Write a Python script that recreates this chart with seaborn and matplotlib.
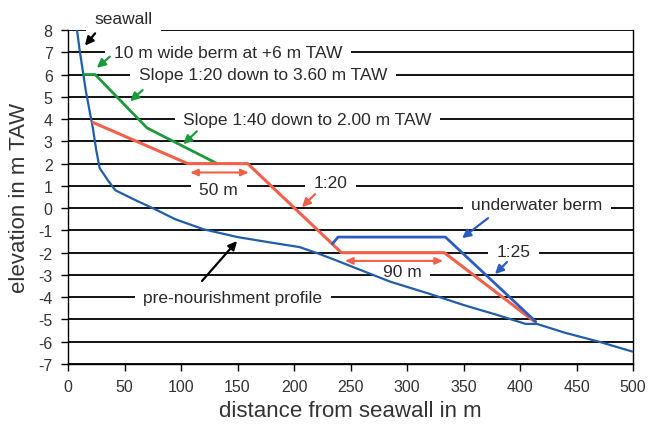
import matplotlib
matplotlib.use('Agg')
import matplotlib.pyplot as plt
import seaborn as sns

# pre-nourishment profile (distance from seawall in m, elevation in m TAW)
profile_x = [8, 10, 13, 16, 19, 22, 25, 28, 32, 36, 42, 50, 60, 75, 95, 120,
             150, 180, 205, 222, 235, 250, 285, 320, 350, 380, 405, 415, 440, 470, 500]
profile_y = [8.0, 7.2, 6.2, 5.2, 4.4, 3.6, 2.6, 1.8, 1.5, 1.2, 0.8, 0.6, 0.35, 0.0, -0.5, -0.95,
             -1.3, -1.55, -1.75, -2.05, -2.3, -2.6, -3.3, -3.85, -4.35, -4.8, -5.2, -5.2, -5.6, -6.0, -6.45]

# upper beach berm (green)
berm_x = [14, 24, 70, 132]
berm_y = [6.0, 6.0, 3.6, 2.0]

# beach nourishment profile (red)
nourish_x = [22, 106, 159, 242, 333, 413]
nourish_y = [3.85, 2.0, 2.0, -2.0, -2.0, -5.1]

# underwater berm (blue)
uw_x = [234, 239, 334, 414]
uw_y = [-1.6, -1.3, -1.3, -5.1]

xticks = list(range(0, 501, 50))
yticks = list(range(-7, 9))

sns.set_style('white')
plt.rcParams['font.family'] = ['Liberation Sans', 'DejaVu Sans']
plt.rcParams['axes.unicode_minus'] = False

fig = plt.figure(figsize=(6.52, 4.27), dpi=100)
ax = fig.add_axes([68 / 652, 1 - 365 / 427, 565 / 652, 334 / 427])

ax.set_axisbelow(True)
ax.grid(axis='y', color='black', lw=1.3)
ax.grid(axis='x', visible=False)

red = '#f2604a'
sns.lineplot(x=profile_x, y=profile_y, sort=False, estimator=None, color='#1f5ea8', lw=1.6, ax=ax, zorder=4)
sns.lineplot(x=berm_x, y=berm_y, sort=False, estimator=None, color='#1b9a3c', lw=2.0, ax=ax, zorder=4)
sns.lineplot(x=nourish_x, y=nourish_y, sort=False, estimator=None, color=red, lw=2.2, ax=ax, zorder=4)
sns.lineplot(x=uw_x, y=uw_y, sort=False, estimator=None, color='#2b5cc4', lw=2.0, ax=ax, zorder=4)

ax.set_xlim(0, 500)
ax.set_ylim(-7, 8)
ax.set_xticks(xticks)
ax.set_yticks(yticks)
ax.tick_params(axis='both', labelsize=11.5, colors='black', labelcolor='#333333',
               direction='out', length=5, width=1, pad=6, bottom=True, left=True)
for s in ['left', 'right', 'bottom']:
    ax.spines[s].set_color('black')
    ax.spines[s].set_linewidth(1.0)
ax.spines['top'].set_visible(False)

ax.set_xlabel('distance from seawall in m', fontsize=16, color='#333333', labelpad=4)
ax.set_ylabel('elevation in m TAW', fontsize=16, color='#333333', labelpad=6)

tc = '#2a2a2a'
box = dict(boxstyle='square,pad=0.5', fc='white', ec='none')


def label(x, y, s, color, xy=None, xytext=None, z=2):
    ax.text(x, y, s, fontsize=12.5, color=tc, ha='center', va='center',
            bbox=box, zorder=z, clip_on=False)
    if xy is not None:
        ax.annotate('', xy=xy, xytext=xytext, zorder=5,
                    arrowprops=dict(arrowstyle='-|>,head_length=0.5,head_width=0.25',
                                    color=color, lw=1.6, shrinkA=0, shrinkB=0))


label(49, 8.5, 'seawall', 'black', (15, 7.3), (24, 7.85), z=3)
label(141.5, 7.0, '10 m wide berm at +6 m TAW', '#1b9a3c', (25.5, 6.3), (37, 6.8))
label(172.5, 6.0, 'Slope 1:20 down to 3.60 m TAW', '#1b9a3c', (55, 4.8), (66, 5.3))
label(212, 4.0, 'Slope 1:40 down to 2.00 m TAW', '#1b9a3c', (102, 2.87), (114, 3.45))
label(133.5, 0.85, '50 m', red)
label(232, 1.15, '1:20', red, (207, 0.04), (218.6, 0.63))
label(415, 0.15, 'underwater berm', '#2b5cc4', (348.7, -1.35), (371.7, -0.45))
label(394.5, -1.95, '1:25', '#2b5cc4', (377.9, -2.96), (388.5, -2.42))
label(295.5, -2.85, '90 m', red)
label(146, -4.0, 'pre-nourishment profile', 'black', (149.6, -1.48), (118.6, -3.27))

# double-headed dimension arrows
for x0, x1, y in [(108, 160, 1.6), (245, 332, -2.37)]:
    ax.annotate('', xy=(x1, y), xytext=(x0, y), zorder=5,
                arrowprops=dict(arrowstyle='<|-|>,head_length=0.45,head_width=0.2',
                                color=red, lw=1.5, shrinkA=0, shrinkB=0))

fig.savefig('out.png', dpi=100)
